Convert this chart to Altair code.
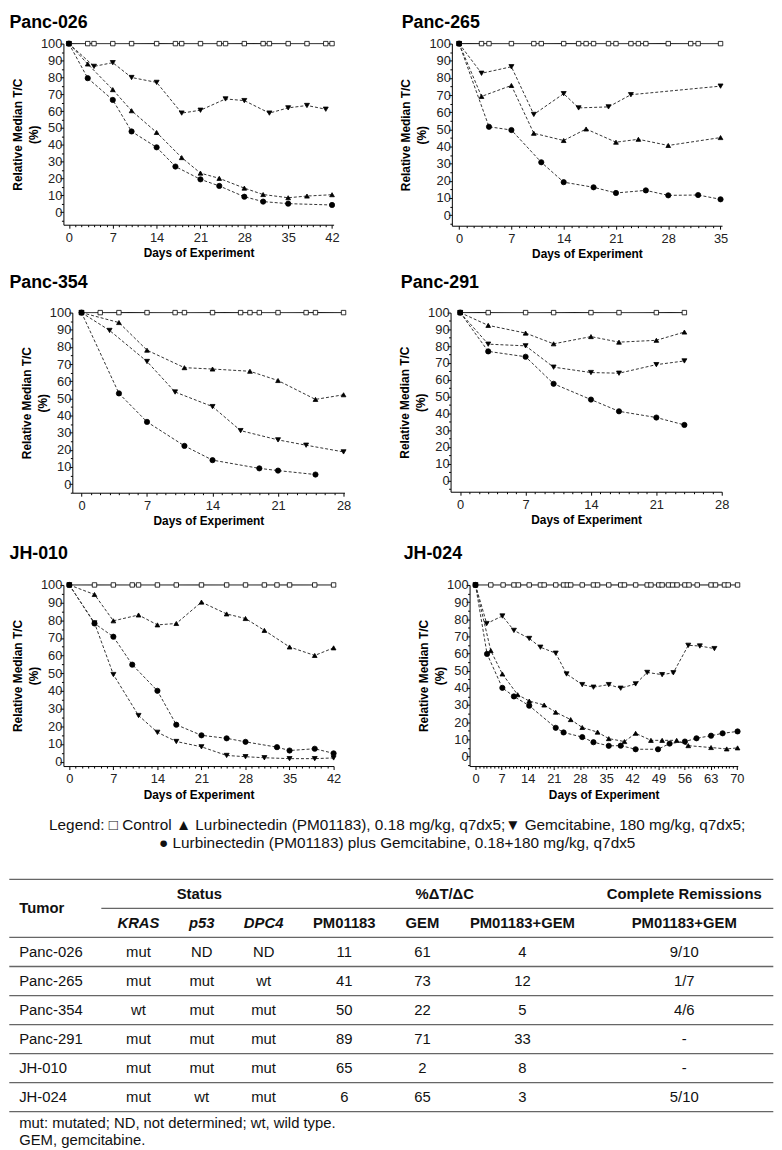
import altair as alt
import pandas as pd

FONT = "Liberation Sans, Arial, Helvetica, sans-serif"
SERIES = ["Control", "Lurbinectedin", "Gemcitabine", "Combination"]

# ---------------- data ----------------
# Panc-026
P026_CTRL_DAYS = [0, 3, 4, 7, 10, 14, 17, 18, 21, 24, 25, 28, 31, 32, 35, 38, 41, 42]
P026_LURB_DAYS = [0, 3, 7, 10, 14, 18, 21, 24, 28, 31, 35, 38, 42]
P026_LURB = [100, 87.9, 72.7, 60.2, 47.3, 32.4, 23.2, 20.1, 14.3, 10.5, 8.6, 9.6, 10.4]
P026_GEM_DAYS = [0, 4, 7, 10, 14, 18, 21, 25, 28, 32, 35, 38, 41]
P026_GEM = [100, 86.5, 88.7, 79.9, 77.0, 58.8, 60.5, 67.2, 66.2, 58.8, 61.9, 63.3, 61.1]
P026_COMBO_DAYS = [0, 3, 7, 10, 14, 17, 21, 24, 28, 31, 35, 42]
P026_COMBO = [100, 79.5, 66.6, 47.9, 38.5, 27.1, 19.5, 15.6, 9.2, 6.3, 5.1, 4.3]

# Panc-265
P265_CTRL_DAYS = [0, 3, 4, 7, 10, 11, 14, 16, 17, 18, 20, 21, 23, 24, 25, 28, 31, 32, 35]
P265_LURB_DAYS = [0, 3, 7, 10, 14, 17, 21, 24, 28, 35]
P265_LURB = [100, 69.2, 75.6, 47.7, 43.5, 50.2, 42.5, 44.2, 40.6, 45.2]
P265_GEM_DAYS = [0, 3, 7, 10, 14, 16, 20, 23, 35]
P265_GEM = [100, 82.7, 86.5, 58.7, 70.8, 62.5, 63.1, 70.2, 75.2]
P265_COMBO_DAYS = [0, 4, 7, 11, 14, 18, 21, 25, 28, 32, 35]
P265_COMBO = [100, 51.5, 49.6, 30.8, 19.2, 16.2, 12.9, 14.4, 11.5, 11.7, 9.2]

# Panc-354
P354_CTRL_DAYS = [0, 2, 4, 7, 10, 11, 14, 17, 18, 19, 21, 24, 25, 28]
P354_LURB_DAYS = [0, 4, 7, 11, 14, 18, 21, 25, 28]
P354_LURB = [100, 94.2, 78.1, 67.9, 67.1, 65.8, 60.4, 49.4, 52.1]
P354_GEM_DAYS = [0, 3, 7, 10, 14, 17, 21, 24, 28]
P354_GEM = [100, 89.6, 71.5, 53.7, 45.2, 31.2, 25.8, 22.7, 18.8]
P354_COMBO_DAYS = [0, 4, 7, 11, 14, 19, 21, 25]
P354_COMBO = [100, 52.9, 36.3, 22.3, 14.0, 9.2, 7.9, 5.6]

# Panc-291
P291_CTRL_DAYS = [0, 3, 7, 10, 14, 17, 21, 24]
P291_LURB_DAYS = [0, 3, 7, 10, 14, 17, 21, 24]
P291_LURB = [100, 92.4, 87.8, 81.4, 85.7, 82.4, 83.5, 88.4]
P291_GEM_DAYS = [0, 3, 7, 10, 14, 17, 21, 24]
P291_GEM = [100, 81.2, 80.2, 67.5, 64.3, 63.9, 69.0, 71.2]
P291_COMBO_DAYS = [0, 3, 7, 10, 14, 17, 21, 24]
P291_COMBO = [100, 76.9, 73.7, 57.6, 48.2, 41.2, 37.5, 33.1]

# JH-010
J010_CTRL_DAYS = [0, 4, 7, 10, 11, 14, 17, 21, 25, 28, 31, 33, 35, 39, 42]
J010_LURB_DAYS = [0, 4, 7, 11, 14, 17, 21, 25, 28, 31, 35, 39, 42]
J010_LURB = [100, 94.6, 79.7, 83.0, 77.4, 78.2, 90.3, 83.6, 81.0, 74.3, 64.9, 60.1, 64.4]
J010_GEM_DAYS = [0, 4, 7, 11, 14, 17, 21, 25, 28, 31, 35, 39, 42]
J010_GEM = [100, 78.5, 49.3, 26.1, 16.6, 11.4, 8.4, 3.5, 2.8, 2.2, 1.7, 1.7, 2.1]
J010_COMBO_DAYS = [0, 4, 7, 10, 14, 17, 21, 25, 28, 33, 35, 39, 42]
J010_COMBO = [100, 78.2, 70.7, 54.9, 40.1, 20.9, 14.9, 13.2, 11.2, 8.2, 6.3, 7.3, 4.7]

# JH-024
J024_CTRL_DAYS = [0, 4.1, 7.4, 10.3, 11.5, 14.4, 17.4, 18.4, 21.5, 23.6, 24.6, 25.5, 28.6,
                  31.6, 32.7, 35.7, 38.9, 39.9, 42.9, 46.0, 47.0, 49.1, 50.0, 51.7, 52.8,
                  54.0, 56.1, 57.2, 59.4, 63.1, 64.3, 66.7, 67.7, 70.2]
J024_LURB_DAYS = [0, 4.1, 7.2, 11.3, 14.4, 18.4, 21.5, 25.5, 28.6, 32.7, 35.7, 39.9, 42.9,
                  47.0, 50.0, 53.9, 57.0, 63.1, 67.3, 70.2]
J024_LURB = [100, 61.7, 48.1, 36.0, 32.3, 30.0, 25.8, 21.5, 16.9, 14.2, 10.4, 8.7, 13.5,
             9.4, 9.4, 9.4, 6.3, 5.2, 4.4, 5.0]
J024_GEM_DAYS = [0, 3.0, 7.2, 10.3, 14.4, 17.4, 21.5, 24.4, 28.6, 31.6, 35.7, 38.9, 42.9,
                 46.0, 50.0, 53.0, 57.0, 60.1, 64.0]
J024_GEM = [100, 77.5, 81.9, 73.5, 68.8, 63.7, 60.2, 48.1, 41.9, 40.4, 41.9, 39.8, 42.3,
            49.0, 47.7, 48.8, 64.8, 64.4, 62.9]
J024_COMBO_DAYS = [0, 3.1, 7.2, 10.3, 14.4, 21.5, 23.6, 28.6, 31.6, 35.7, 38.9, 42.9, 48.9,
                   52.0, 56.1, 59.2, 63.1, 66.2, 70.2]
J024_COMBO = [100, 59.8, 40.0, 35.0, 29.6, 16.7, 14.0, 11.3, 8.3, 6.2, 6.3, 4.2, 4.2,
              7.5, 8.7, 10.6, 12.1, 13.5, 14.6]

# Table
TUMORS = ["Panc-026", "Panc-265", "Panc-354", "Panc-291", "JH-010", "JH-024"]
KRAS = ["mut", "mut", "wt", "mut", "mut", "mut"]
P53 = ["ND", "mut", "mut", "mut", "mut", "wt"]
DPC4 = ["ND", "wt", "mut", "mut", "mut", "mut"]
PCT_PM01183 = [11, 41, 50, 89, 65, 6]
PCT_GEM = [61, 73, 22, 71, 2, 65]
PCT_COMBO = [4, 12, 5, 33, 8, 3]
COMPLETE_REMISSIONS = ["9/10", "1/7", "4/6", "-", "-", "5/10"]
GROUP_HEADERS = ["Status", "%\u0394T/\u0394C", "Complete Remissions"]
SUB_HEADERS_ITALIC = ["KRAS", "p53", "DPC4"]
SUB_HEADERS = ["PM01183", "GEM", "PM01183+GEM", "PM01183+GEM"]
FOOTNOTES = ["mut: mutated; ND, not determined; wt, wild type.", "GEM, gemcitabine."]
LEGEND_LINES = [
    "Legend: \u25a1 Control \u25b2 Lurbinectedin (PM01183), 0.18 mg/kg, q7dx5;\u25bc Gemcitabine, 180 mg/kg, q7dx5;",
    "\u25cf Lurbinectedin (PM01183) plus Gemcitabine, 0.18+180 mg/kg, q7dx5",
]

PANEL_DATA = {
    "Panc-026": [(P026_CTRL_DAYS, [100] * len(P026_CTRL_DAYS)), (P026_LURB_DAYS, P026_LURB),
                 (P026_GEM_DAYS, P026_GEM), (P026_COMBO_DAYS, P026_COMBO)],
    "Panc-265": [(P265_CTRL_DAYS, [100] * len(P265_CTRL_DAYS)), (P265_LURB_DAYS, P265_LURB),
                 (P265_GEM_DAYS, P265_GEM), (P265_COMBO_DAYS, P265_COMBO)],
    "Panc-354": [(P354_CTRL_DAYS, [100] * len(P354_CTRL_DAYS)), (P354_LURB_DAYS, P354_LURB),
                 (P354_GEM_DAYS, P354_GEM), (P354_COMBO_DAYS, P354_COMBO)],
    "Panc-291": [(P291_CTRL_DAYS, [100] * len(P291_CTRL_DAYS)), (P291_LURB_DAYS, P291_LURB),
                 (P291_GEM_DAYS, P291_GEM), (P291_COMBO_DAYS, P291_COMBO)],
    "JH-010": [(J010_CTRL_DAYS, [100] * len(J010_CTRL_DAYS)), (J010_LURB_DAYS, J010_LURB),
               (J010_GEM_DAYS, J010_GEM), (J010_COMBO_DAYS, J010_COMBO)],
    "JH-024": [(J024_CTRL_DAYS, [100] * len(J024_CTRL_DAYS)), (J024_LURB_DAYS, J024_LURB),
               (J024_GEM_DAYS, J024_GEM), (J024_COMBO_DAYS, J024_COMBO)],
}

# ---------------- layout (not data) ----------------
# s = horizontal shift of the plot inside its cell (px); dx = title offset from plot origin
LAYOUT = {
    "Panc-026": dict(x=(-0.88, 42.25), y=(-7.4, 100), w=273, h=183, tmax=42, s=0, dx=-54.5, off=6),
    "Panc-265": dict(x=(-0.97, 35.2), y=(-6.2, 100), w=273, h=184, tmax=35, s=0, dx=-50.7, off=6),
    "Panc-354": dict(x=(-0.98, 28.1), y=(-5.0, 100), w=275, h=182, tmax=28, s=9, dx=-54.5, off=14.7),
    "Panc-291": dict(x=(-1.03, 28.0), y=(-6.7, 100), w=274, h=181, tmax=28, s=0, dx=-50.3, off=14.7),
    "JH-010": dict(x=(-0.94, 42.0), y=(-2.5, 100), w=273, h=183, tmax=42, s=0, dx=-54.5, off=16.4),
    "JH-024": dict(x=(-1.58, 70.26), y=(-5.6, 100), w=271, h=183, tmax=70, s=0, dx=-66.6, off=16.4),
}
TABLE_LEFT = -54.7


def panel(name):
    lay = LAYOUT[name]
    rows = []
    for s, (days, vals) in zip(SERIES, PANEL_DATA[name]):
        for d, v in zip(days, vals):
            rows.append({"day": d, "val": v, "series": s})
    df = pd.DataFrame(rows)

    ymin = lay["y"][0]
    sh = lay["s"]
    xaxis = alt.Axis(
        values=list(range(0, lay["tmax"] + 1)),
        labelExpr="datum.value % 7 === 0 ? datum.label : ''",
        tickSize={"condition": {"test": "datum.value % 7 === 0", "value": 3.5}, "value": 2},
        labelPadding=3, labelFlush=False, labelOverlap=False,
        title="Days of Experiment", titlePadding=4,
    )
    yaxis = alt.Axis(
        values=[v for v in range(-5, 101, 5) if v >= ymin],
        labelExpr="datum.value % 10 === 0 ? datum.label : ''",
        tickSize={"condition": {"test": "datum.value % 10 === 0", "value": 3.5}, "value": 2},
        labelPadding=-2, labelOverlap=False, offset=-sh,
        title=["Relative Median T/C", "(%)"], titleLineHeight=16.5, titlePadding=0,
    )
    xscale = alt.Scale(domain=list(lay["x"]), nice=False, zero=False)
    if sh:
        xscale = alt.Scale(domain=list(lay["x"]), nice=False, zero=False, range=[sh, sh + lay["w"]])
    base = alt.Chart(df).encode(
        x=alt.X("day:Q", scale=xscale, axis=xaxis),
        y=alt.Y("val:Q", scale=alt.Scale(domain=list(lay["y"]), nice=False, zero=False), axis=yaxis),
    )
    lines = base.mark_line(strokeWidth=1).encode(
        stroke=alt.Stroke("series:N", scale=alt.Scale(domain=SERIES, range=["#000000", "#333333", "#333333", "#333333"]), legend=None),
        strokeDash=alt.StrokeDash("series:N", scale=alt.Scale(domain=SERIES, range=[[1, 0], [3, 2], [3, 2], [3, 2]]), legend=None),
    )
    pts = base.mark_point(stroke="black", strokeWidth=0.8, opacity=1, fillOpacity=1).encode(
        fill=alt.Fill("series:N", scale=alt.Scale(domain=SERIES, range=["white", "black", "black", "black"]), legend=None),
        shape=alt.Shape("series:N", scale=alt.Scale(domain=SERIES, range=["square", "triangle-up", "triangle-down", "circle"]), legend=None),
        size=alt.Size("series:N", scale=alt.Scale(domain=SERIES, range=[20, 28, 28, 26]), legend=None),
    )
    return alt.layer(lines, pts).properties(
        width=lay["w"] + sh, height=lay["h"],
        title=alt.TitleParams(name, anchor="start", frame="group", fontSize=18, fontWeight="bold",
                              font=FONT, color="black", dx=lay["dx"], offset=lay["off"]),
    )


# ---------------- table ----------------
TW = 772
COLX = {"tumor": 10, "kras": 130.5, "p53": 194.5, "dpc4": 257, "pm": 338.5, "gem": 417.5,
        "combo": 518.5, "cr": 682, "status": 192, "dtdc": 440}

hdr_bold = []
for key, txt in zip(["status", "dtdc", "cr"], GROUP_HEADERS):
    hdr_bold.append({"x": COLX[key], "r": 0, "t": txt})
for key, txt in zip(["pm", "gem", "combo", "cr"], SUB_HEADERS):
    hdr_bold.append({"x": COLX[key], "r": 1, "t": txt})
hdr_it = [{"x": COLX[k], "r": 1, "t": t} for k, t in zip(["kras", "p53", "dpc4"], SUB_HEADERS_ITALIC)]
hdr_left = [{"x": COLX["tumor"], "r": 0.5, "t": "Tumor"}]
body_c = []
body_l = []
for i, tum in enumerate(TUMORS):
    r = 2 + i
    body_l.append({"x": COLX["tumor"], "r": r, "t": tum})
    for key, val in zip(["kras", "p53", "dpc4", "pm", "gem", "combo", "cr"],
                        [KRAS[i], P53[i], DPC4[i], PCT_PM01183[i], PCT_GEM[i], PCT_COMBO[i], COMPLETE_REMISSIONS[i]]):
        body_c.append({"x": COLX[key], "r": r, "t": str(val)})
foot = [{"x": COLX["tumor"], "r": 7.88 + 0.58 * i, "t": t} for i, t in enumerate(FOOTNOTES)]
rules = [{"x": 0, "x2": TW, "r": -0.5}, {"x": 93, "x2": TW, "r": 0.5}] + \
        [{"x": 0, "x2": TW, "r": k + 0.5} for k in range(1, 8)]

xs_t = alt.Scale(domain=[0, TW], range=[TABLE_LEFT, TW + TABLE_LEFT], nice=False, zero=False)
ys_t = alt.Scale(domain=[-0.5, 8.6], nice=False, zero=False, reverse=True)


def tlayer(recs, **kw):
    return alt.Chart(pd.DataFrame(recs)).mark_text(font=FONT, fontSize=15, color="#111", baseline="middle", **kw).encode(
        x=alt.X("x:Q", scale=xs_t, axis=None), y=alt.Y("r:Q", scale=ys_t, axis=None), text="t:N")


rule_layer = alt.Chart(pd.DataFrame(rules)).mark_rule(color="#666", strokeWidth=1.3).encode(
    x=alt.X("x:Q", scale=xs_t, axis=None), x2="x2:Q", y=alt.Y("r:Q", scale=ys_t, axis=None))

table = alt.layer(
    rule_layer,
    tlayer(hdr_bold, fontWeight="bold", align="center"),
    tlayer(hdr_it, fontWeight="bold", fontStyle="italic", align="center"),
    tlayer(hdr_left, fontWeight="bold", align="left"),
    tlayer(body_c, align="center"),
    tlayer(body_l, align="left"),
    tlayer(foot, align="left"),
).properties(
    width=TW + TABLE_LEFT, height=267,
    title=alt.TitleParams(LEGEND_LINES, anchor="middle", frame="group", fontSize=15.5, fontWeight="normal",
                          font=FONT, color="#111", lineHeight=18.4, offset=27.6, dx=-21.4),
)

row1 = alt.hconcat(panel("Panc-026"), panel("Panc-265"), spacing=60.5)
row2 = alt.hconcat(panel("Panc-354"), panel("Panc-291"), spacing=47.2)
row3 = alt.hconcat(panel("JH-010"), panel("JH-024"), spacing=62.4)
plots = alt.vconcat(row1, alt.vconcat(row2, row3, spacing=17.2), spacing=13.8)

chart = alt.vconcat(plots, table, spacing=16.5).properties(padding=0).configure_view(
    stroke=None
).configure_axis(
    labelFont=FONT, titleFont=FONT, labelFontSize=13, titleFontSize=12, titleFontWeight="bold",
    domainColor="black", tickColor="black", labelColor="#222", titleColor="black", grid=False,
    domainWidth=1, tickWidth=1,
)

chart.save("out.html", embed_options={"renderer": "svg", "actions": False})
